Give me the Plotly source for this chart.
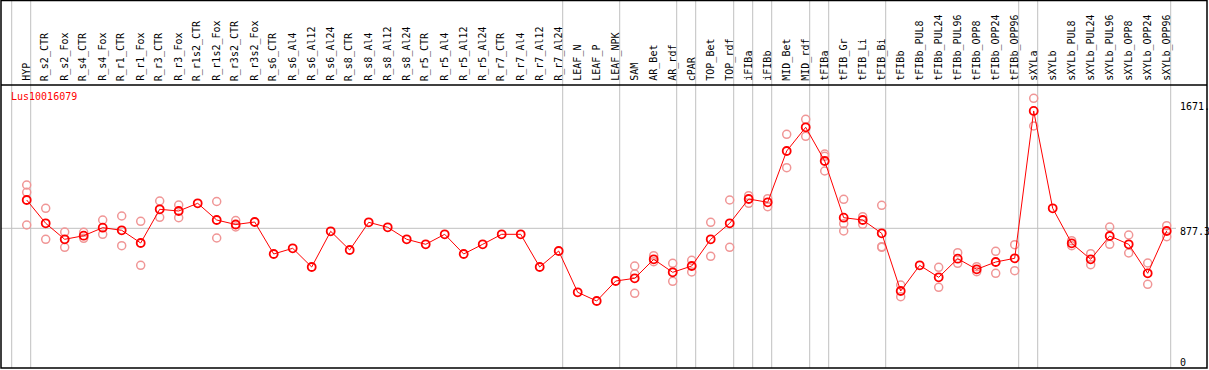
import plotly.graph_objects as go

categories = ["HYP", "R_s2_CTR", "R_s2_Fox", "R_s4_CTR", "R_s4_Fox", "R_r1_CTR", "R_r1_Fox",
              "R_r3_CTR", "R_r3_Fox", "R_r1s2_CTR", "R_r1s2_Fox", "R_r3s2_CTR", "R_r3s2_Fox",
              "R_s6_CTR", "R_s6_Al4", "R_s6_Al12", "R_s6_Al24", "R_s8_CTR", "R_s8_Al4",
              "R_s8_Al12", "R_s8_Al24", "R_r5_CTR", "R_r5_Al4", "R_r5_Al12", "R_r5_Al24",
              "R_r7_CTR", "R_r7_Al4", "R_r7_Al12", "R_r7_Al24", "LEAF_N", "LEAF_P", "LEAF_NPK",
              "SAM", "AR_Bet", "AR_rdf", "cPAR", "TOP_Bet", "TOP_rdf", "iFIBa", "iFIBb",
              "MID_Bet", "MID_rdf", "tFIBa", "tFIB_Gr", "tFIB_Li", "tFIB_Bi", "tFIBb",
              "tFIBb_PUL8", "tFIBb_PUL24", "tFIBb_PUL96", "tFIBb_OPP8", "tFIBb_OPP24",
              "tFIBb_OPP96", "sXYLa", "sXYLb", "sXYLb_PUL8", "sXYLb_PUL24", "sXYLb_PUL96",
              "sXYLb_OPP8", "sXYLb_OPP24", "sXYLb_OPP96"]

mean_values = [1068.7, 911.1, 802.9, 827.2, 881.4, 863.8, 777.9, 1005.8, 994.3, 1046.4,
               933.4, 903.0, 919.9, 703.5, 742.0, 615.5, 857.0, 730.5, 917.9, 884.0,
               802.9, 769.1, 836.7, 703.5, 769.1, 836.7, 836.7, 615.5, 723.7, 444.4,
               385.5, 520.8, 539.1, 667.6, 579.7, 622.3, 802.9, 911.1, 1075.5, 1053.2,
               1400.1, 1560.5, 1332.5, 949.0, 933.4, 843.5, 453.2, 627.0, 545.9, 671.7,
               600.0, 649.3, 674.4, 1671.0, 1012.6, 775.8, 667.6, 825.2, 769.1, 572.9,
               859.0]

replicate_values = [
    [1170.2, 1120.8, 899.6], [1012.6, 802.9], [852.3, 748.8], [850.2, 809.7],
    [933.4, 836.7], [960.5, 759.6], [924.6, 627.0], [1061.9, 951.7], [1034.9, 949.0],
    [], [1058.6, 811.7], [930.0, 886.1], [],
    [], [], [], [], [], [], [], [], [], [], [], [], [], [], [], [],
    [], [], [],
    [622.3, 568.2, 437.6], [692.0, 651.4], [640.6, 518.8], [660.8, 581.7],
    [917.9, 687.9], [1068.7, 748.8], [1097.8, 1046.4], [1077.5, 1023.4],
    [1513.1, 1287.2], [1614.6, 1499.6], [1379.9, 1364.0, 1264.9],
    [1073.4, 908.4, 859.0], [955.8, 904.3], [1032.9, 752.8, 748.8],
    [493.8, 414.6], [], [613.5, 478.2], [712.3, 640.6], [617.6, 583.7],
    [721.7, 572.9], [766.4, 590.5], [1756.6, 1569.2], [],
    [793.4, 759.6], [705.5, 631.1], [886.1, 769.1], [832.0, 710.2],
    [642.6, 498.5], [894.9, 820.5],
]

group_ends = [-1, 0, 28, 31, 34, 35, 37, 38, 39, 41, 42, 45, 52, 53, 60]
scale_labels = ["1671.", "877.3", "0"]
scale_values = [1671.0, 877.3, 0.0]
gene_id = "Lus10016079"

W, H = 1209, 370
L, R, T, B = 1, 2, 85, 2
PH = H - T - B
FONT = "DejaVu Sans Mono"

def py(pix):
    return (H - B - pix) / PH

idx = list(range(len(categories)))
rep_x, rep_y = [], []
for i, reps in enumerate(replicate_values):
    for v in reps:
        rep_x.append(i)
        rep_y.append(v)

fig = go.Figure()
fig.add_trace(go.Scatter(
    x=rep_x, y=rep_y, mode="markers",
    marker=dict(symbol="circle-open", size=8, color="rgb(240,150,150)",
                line=dict(width=1.5, color="rgb(240,150,150)")),
    hoverinfo="skip", showlegend=False))
fig.add_trace(go.Scatter(
    x=idx, y=mean_values, mode="lines+markers",
    line=dict(color="red", width=1),
    marker=dict(symbol="circle-open", size=8, color="red",
                line=dict(width=1.8, color="red")),
    showlegend=False))

shapes = []
for g in group_ends:
    shapes.append(dict(type="line", xref="x", yref="paper", x0=g + 0.21, x1=g + 0.21,
                       y0=0, y1=py(0), line=dict(color="#c0c0c0", width=1), layer="below"))
shapes.append(dict(type="line", xref="paper", yref="y", x0=0, x1=(1176 - L) / (W - L - R),
                   y0=scale_values[1], y1=scale_values[1],
                   line=dict(color="#c0c0c0", width=1), layer="below"))
shapes.append(dict(type="rect", xref="paper", yref="paper", x0=0, x1=1, y0=0, y1=py(0.5),
                   line=dict(color="black", width=1.5)))
shapes.append(dict(type="line", xref="paper", yref="paper", x0=0, x1=1, y0=1, y1=1,
                   line=dict(color="black", width=1.5)))

annotations = []
for i, c in enumerate(categories):
    annotations.append(dict(x=i, y=py(83), xref="x", yref="paper", text=c, textangle=-90,
                            showarrow=False, xanchor="center", yanchor="bottom",
                            font=dict(family=FONT, size=10, color="black")))
label_pix = [106.7, 231.7, 362]
for lab, yp in zip(scale_labels, label_pix):
    annotations.append(dict(x=(1178 - L) / (W - L - R), y=py(yp), xref="paper", yref="paper",
                            text=lab, showarrow=False, xanchor="left", yanchor="middle",
                            font=dict(family=FONT, size=10, color="black")))
annotations.append(dict(x=(9 - L) / (W - L - R), y=py(97), xref="paper", yref="paper",
                        text=gene_id, showarrow=False, xanchor="left", yanchor="middle",
                        font=dict(family=FONT, size=10, color="red")))

x0 = (L - 26.7) / 19
x1 = (W - R - 26.7) / 19
k = 6.764
fig.update_layout(
    width=W, height=H, margin=dict(l=L, r=R, t=T, b=B, pad=0),
    paper_bgcolor="white", plot_bgcolor="white",
    xaxis=dict(range=[x0, x1], visible=False, showgrid=False, zeroline=False),
    yaxis=dict(range=[(358 - (H - B)) * k, (358 - T) * k], visible=False,
               showgrid=False, zeroline=False),
    shapes=shapes, annotations=annotations,
)
fig.write_html("out.html", config={"displayModeBar": False},
               post_script="document.body.style.margin='0px';document.body.style.overflow='hidden';")
